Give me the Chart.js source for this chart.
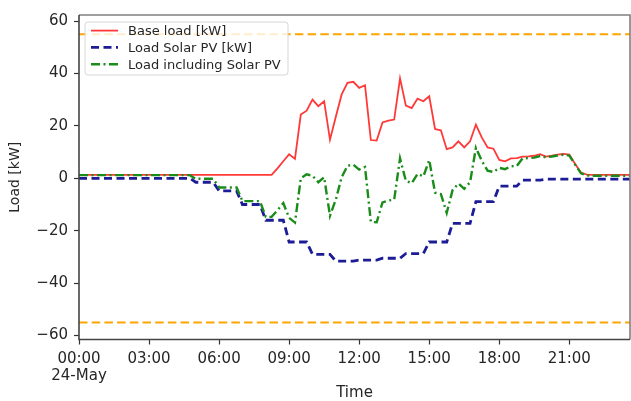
<!DOCTYPE html>
<html>
<head>
<meta charset="utf-8">
<script src="https://cdn.jsdelivr.net/npm/chart.js@4.4.1/dist/chart.umd.min.js"></script>
<style>
  html, body { margin: 0; padding: 0; background: #fff; overflow: hidden; }
  canvas { display: block; }
</style>
</head>
<body>
<canvas id="loadChart" width="631" height="401"></canvas>
<script>
/* ================= DATA (15 min steps, 24-May 00:00 - 23:45) ================= */
const baseLoad = [
  1.3, 1.3, 1.3, 1.3,   1.3, 1.3, 1.3, 1.3,   1.3, 1.3, 1.3, 1.3,   1.3, 1.3, 1.3, 1.3,
  1.3, 1.3, 1.3, 1.3,   1.3, 1.3, 1.3, 1.3,   1.3, 1.3, 1.3, 1.3,   1.3, 1.3, 1.3, 1.3,
  1.3, 1.3, 3.8, 6.5,   9.2, 7.4, 24.3, 25.8, 30.0, 27.5, 29.4, 14.7, 23.5, 32.0, 36.4, 36.8,
  34.5, 35.5, 14.6, 14.4, 21.3, 22.0, 22.4, 38.1, 27.7, 26.8, 30.4, 29.4, 31.3, 18.8, 18.3, 11.1,
  11.8, 14.1, 11.8, 14.1, 20.5, 15.6, 11.8, 11.3, 7.0, 6.5, 7.6, 7.7,  8.3, 8.4, 8.6, 9.2,
  8.3, 8.6, 9.0, 9.3,   9.0, 5.5, 2.2, 1.4,   1.3, 1.3, 1.3, 1.3,   1.3, 1.3, 1.3, 1.3
];

const solarLoad = [
  0, 0, 0, 0,   0, 0, 0, 0,   0, 0, 0, 0,   0, 0, 0, 0,
  0, 0, 0, 0,   -1.5, -1.5, -1.5, -1.5,   -4.8, -4.8, -4.8, -4.8,   -10, -10, -10, -10,
  -16, -16, -16, -16,   -24.3, -24.3, -24.3, -24.3,   -29, -29, -29, -29,   -31.6, -31.6, -31.6, -31.6,
  -31.2, -31.2, -31.2, -31.2,   -30.5, -30.5, -30.5, -30.5,   -28.7, -28.7, -28.7, -28.7,   -24.3, -24.3, -24.3, -24.3,
  -17.2, -17.2, -17.2, -17.2,   -8.9, -8.9, -8.9, -8.9,   -3.0, -3.0, -3.0, -3.0,   -0.7, -0.7, -0.7, -0.7,
  -0.3, -0.3, -0.3, -0.3,   -0.3, -0.3, -0.3, -0.3,   -0.3, -0.3, -0.3, -0.3,   -0.3, -0.3, -0.3, -0.3
];

const netLoad = [
  1.2, 1.2, 1.2, 1.2,   1.2, 1.2, 1.2, 1.2,   1.2, 1.2, 1.2, 1.2,   1.2, 1.2, 1.2, 1.2,
  1.2, 1.2, 1.2, 1.2,   -0.2, -0.2, -0.2, -0.2,   -3.5, -3.5, -3.5, -3.5,   -8.7, -8.7, -8.7, -8.7,
  -14.7, -14.7, -12.2, -9.5,   -15.1, -16.9, 0.0, 1.5,   1.0, -1.5, 0.4, -14.3,   -8.1, 0.4, 4.8, 5.2,
  3.3, 4.3, -16.6, -16.8,   -9.2, -8.5, -8.1, 7.6,   -1.0, -1.9, 1.7, 0.7,   7.0, -5.5, -6.0, -13.2,
  -4.5, -2.0, -4.0, -1.5,   11.6, 6.7, 2.9, 2.4,   4.0, 3.5, 4.6, 4.7,   7.6, 7.7, 7.9, 8.5,
  8.0, 8.3, 8.7, 9.0,   8.7, 5.2, 1.9, 1.1,   1.0, 1.0, 1.0, 1.0,   1.0, 1.0, 1.0, 1.0
];

const limitLevels = [55, -55];
const seriesNames = ["Base load [kW]", "Load Solar PV [kW]", "Load including Solar PV"];

const xTickHours = [0, 3, 6, 9, 12, 15, 18, 21];
const xTickLabels = [["00:00", "24-May"], "03:00", "06:00", "09:00", "12:00", "15:00", "18:00", "21:00"];
const yTickValues = [-60, -40, -20, 0, 20, 40, 60];

/* ================= BUILD POINTS ================= */
const timeHours = baseLoad.map((_, i) => i / 4);
const X_MAX = 23.6;
const toPoints = arr => arr.map((v, i) => ({ x: timeHours[i], y: v }));

const FONT = "DejaVu Sans";
const TEXT = "#262626";

/* ================= PLUGINS ================= */
// axes frame on all four sides
const frame = {
  id: "frame",
  afterDatasetsDraw(chart) {
    const { ctx, chartArea: a } = chart;
    ctx.save();
    ctx.lineWidth = 1.6;
    ctx.strokeStyle = "#808080";
    ctx.beginPath();
    ctx.moveTo(a.left, a.top);
    ctx.lineTo(a.right, a.top);
    ctx.lineTo(a.right, a.bottom);
    ctx.stroke();
    ctx.strokeStyle = "#444";
    ctx.beginPath();
    ctx.moveTo(a.left, a.top);
    ctx.lineTo(a.left, a.bottom);
    ctx.lineTo(a.right, a.bottom);
    ctx.stroke();
    ctx.restore();
  }
};

// matplotlib style legend in the upper left corner of the plot
const boxLegend = {
  id: "boxLegend",
  afterDraw(chart) {
    const { ctx, chartArea: a } = chart;
    const x = a.left + 6, y = a.top + 7, w = 203, h = 53;
    ctx.save();
    ctx.beginPath();
    ctx.roundRect(x, y, w, h, 3);
    ctx.fillStyle = "rgba(255,255,255,0.8)";
    ctx.fill();
    ctx.strokeStyle = "#d6d6d6";
    ctx.lineWidth = 1;
    ctx.stroke();

    ctx.font = `13px '${FONT}'`;
    ctx.textBaseline = "middle";
    chart.data.datasets.slice(0, seriesNames.length).forEach((ds, i) => {
      const ry = y + 8.6 + i * 16.8;
      ctx.beginPath();
      ctx.setLineDash(ds.borderDash || []);
      ctx.strokeStyle = ds.borderColor;
      ctx.lineWidth = ds.borderWidth;
      ctx.moveTo(x + 6, ry);
      ctx.lineTo(x + 33, ry);
      ctx.stroke();
      ctx.setLineDash([]);
      ctx.fillStyle = TEXT;
      ctx.fillText(seriesNames[i], x + 43, ry + 1);
    });
    ctx.restore();
  }
};

/* ================= CHART ================= */
new Chart(document.getElementById("loadChart"), {
  type: "line",
  data: {
    datasets: [
      {
        label: seriesNames[0],
        data: toPoints(baseLoad),
        borderColor: "#ff3838",
        borderWidth: 1.8,
        order: 3
      },
      {
        label: seriesNames[1],
        data: toPoints(solarLoad),
        borderColor: "#1c1c96",
        borderWidth: 2.8,
        borderDash: [8, 4.5],
        order: 2
      },
      {
        label: seriesNames[2],
        data: toPoints(netLoad),
        borderColor: "#1a8c1a",
        borderWidth: 2.4,
        borderDash: [9, 3.5, 2, 3.5],
        order: 1
      },
      ...limitLevels.map(level => ({
        label: "limit",
        data: [{ x: 0, y: level }, { x: X_MAX, y: level }],
        borderColor: "#ffa500",
        borderWidth: 2,
        borderDash: [8.5, 4.2],
        order: 4
      }))
    ]
  },
  options: {
    responsive: false,
    animation: false,
    devicePixelRatio: 1,
    elements: {
      point: { radius: 0 },
      line: { tension: 0, fill: false }
    },
    layout: { padding: { top: 14, right: 1, left: 0, bottom: 0 } },
    plugins: {
      legend: { display: false },
      tooltip: { enabled: false }
    },
    scales: {
      x: {
        type: "linear",
        min: 0,
        max: X_MAX,
        afterBuildTicks: s => { s.ticks = xTickHours.map(v => ({ value: v })); },
        afterFit: s => { s.height = 61.5; },
        border: { display: false },
        grid: { drawOnChartArea: false, drawTicks: true, tickLength: 5, tickColor: "#333", tickWidth: 1.2 },
        ticks: {
          callback: (v, i) => xTickLabels[i],
          autoSkip: false,
          maxRotation: 0,
          padding: 6,
          color: TEXT,
          font: { family: FONT, size: 15, lineHeight: 1.15 }
        },
        title: {
          display: true,
          text: "Time",
          color: TEXT,
          font: { family: FONT, size: 15, lineHeight: 1 },
          padding: { top: 0, bottom: 0 }
        }
      },
      y: {
        min: -61.5,
        max: 62.3,
        afterBuildTicks: s => { s.ticks = yTickValues.map(v => ({ value: v })); },
        afterFit: s => { s.width = 79; },
        border: { display: false },
        grid: { drawOnChartArea: false, drawTicks: true, tickLength: 5, tickColor: "#333", tickWidth: 1.2 },
        ticks: {
          callback: v => (v < 0 ? "\u2212" + Math.abs(v) : String(v)),
          padding: 6,
          color: TEXT,
          font: { family: FONT, size: 15 }
        },
        title: {
          display: true,
          text: "Load [kW]",
          color: TEXT,
          font: { family: FONT, size: 14, lineHeight: 1 },
          padding: { top: 8, bottom: 0 }
        }
      }
    }
  },
  plugins: [frame, boxLegend]
});
</script>
</body>
</html>
